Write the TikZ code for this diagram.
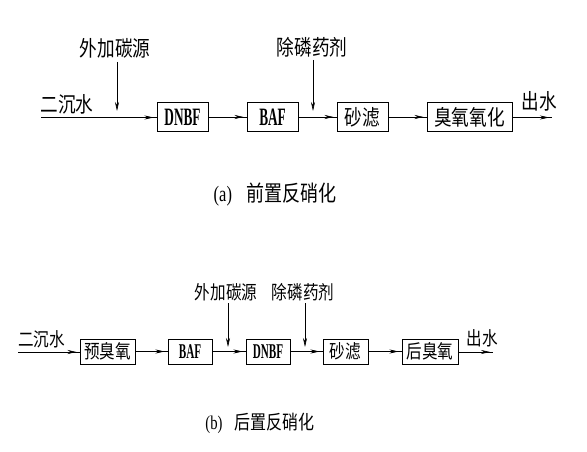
\documentclass[tikz,border=0pt]{standalone}
\usepackage{fontspec}
\setmainfont{Liberation Serif}
\newfontfamily\cjk[FakeStretch=0.82]{Noto Sans CJK SC}
\newfontfamily\lat[FakeStretch=0.53]{Liberation Serif}
\newfontfamily\capfont[FakeStretch=0.75]{Liberation Serif}
\usetikzlibrary{positioning,arrows.meta,decorations.markings}

\begin{document}
\begin{tikzpicture}[x=1pt, y=-1pt, thick]
    % Styles
    \tikzstyle{unit} = [draw, line width=1pt, rectangle, inner sep=0pt, align=center]
    \tikzstyle{flow} = [line width=0.6pt, postaction={decorate}, decoration={markings, mark=at position -3pt with {\arrow{Stealth[length=9pt,width=4pt]}}}]
    \tikzstyle{dose} = [line width=0.6pt, -{Stealth[length=9pt,width=4pt]}]
    \tikzstyle{tag} = [inner sep=0pt]
    \tikzstyle{big cn} = [font=\fontsize{21.5}{21.5}\cjk]
    \tikzstyle{small cn} = [font=\fontsize{19}{19}\cjk]

    \useasboundingbox (0,0) rectangle (587,452);

    % (a) Nodes
    \coordinate (inA) at (41,117.5);
    \node [unit, minimum width=51pt, minimum height=29pt, font=\fontsize{25}{25}\lat\bfseries] (dnbfA) at (182.5,117) {DNBF};
    \node [unit, minimum width=51pt, minimum height=29pt, font=\fontsize{25}{25}\lat\bfseries] (bafA) at (272.5,117) {BAF};
    \node [unit, big cn, minimum width=51pt, minimum height=29pt] (sandA) at (362.5,117) {砂滤};
    \node [unit, big cn, minimum width=85pt, minimum height=29pt] (ozoneA) at (469.5,117) {臭氧氧化};
    \coordinate (outA) at (552,117.5);

    % (a) Labels
    \node [tag, big cn] (wwA) at (67,104) {二沉水};
    \node [tag, big cn] (carbA) at (115,48) {外加碳源};
    \node [tag, big cn] (phosA) at (312,47) {除磷药剂};
    \node [tag, big cn] (effA) at (539.5,101) {出水};
    \node [tag, font=\fontsize{22}{22}\capfont] (capA) at (275,195) {(a)\hspace{14pt}{\cjk 前置反硝化}};
    \coordinate (carbTopA) at (117,62);
    \coordinate (carbEndA) at (117,111);
    \coordinate (phosTopA) at (313,60);
    \coordinate (phosEndA) at (313,111);

    % (a) Connections
    \draw [flow] (inA) -- (dnbfA.west |- inA);
    \draw [flow] (dnbfA) -- (bafA);
    \draw [flow] (bafA) -- (sandA);
    \draw [flow] (sandA) -- (ozoneA);
    \draw [flow] (ozoneA.east |- outA) -- (outA);
    \draw [dose] (carbTopA) -- (carbEndA);
    \draw [dose] (phosTopA) -- (phosEndA);

    % (b) Nodes
    \coordinate (inB) at (18,352);
    \node [unit, small cn, minimum width=55pt, minimum height=25pt] (preB) at (107.5,351.5) {预臭氧};
    \node [unit, minimum width=44pt, minimum height=25pt, font=\fontsize{21}{21}\lat\bfseries] (bafB) at (190,351.5) {BAF};
    \node [unit, minimum width=44pt, minimum height=25pt, font=\fontsize{21}{21}\lat\bfseries] (dnbfB) at (268,351.5) {DNBF};
    \node [unit, small cn, minimum width=45pt, minimum height=25pt] (sandB) at (345.5,351.5) {砂滤};
    \node [unit, small cn, minimum width=56pt, minimum height=25pt] (postB) at (430,351.5) {后臭氧};
    \coordinate (outB) at (493,352);

    % (b) Labels
    \node [tag, small cn] (wwB) at (41.5,339) {二沉水};
    \node [tag, small cn] (carbB) at (226,292) {外加碳源};
    \node [tag, small cn] (phosB) at (303,292) {除磷药剂};
    \node [tag, small cn] (effB) at (482,338) {出水};
    \node [tag, font=\fontsize{19.5}{19.5}\capfont] (capB) at (260,423) {(b)\hspace{12pt}{\cjk 后置反硝化}};
    \coordinate (carbTopB) at (228,303);
    \coordinate (carbEndB) at (228,347);
    \coordinate (phosTopB) at (305,303);
    \coordinate (phosEndB) at (305,347);

    % (b) Connections
    \draw [flow] (inB) -- (preB.west |- inB);
    \draw [flow] (preB) -- (bafB);
    \draw [flow] (bafB) -- (dnbfB);
    \draw [flow] (dnbfB) -- (sandB);
    \draw [flow] (sandB) -- (postB);
    \draw [flow] (postB.east |- outB) -- (outB);
    \draw [dose] (carbTopB) -- (carbEndB);
    \draw [dose] (phosTopB) -- (phosEndB);
\end{tikzpicture}
\end{document}
